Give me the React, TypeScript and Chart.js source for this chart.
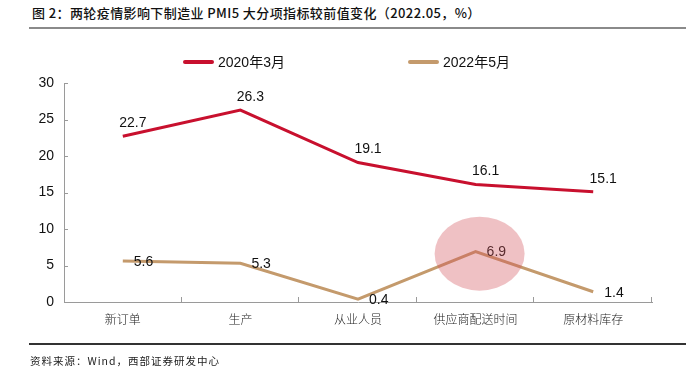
import React, { useEffect, useRef } from "react";
import { Chart, registerables } from "chart.js";

Chart.register(...registerables);

const titleText = "图 2：两轮疫情影响下制造业 PMI5 大分项指标较前值变化（2022.05，%）";
const sourceText = "资料来源：Wind，西部证券研发中心";
const categories = ["新订单", "生产", "从业人员", "供应商配送时间", "原材料库存"];
const seriesNames = ["2020年3月", "2022年5月"];
const series2020 = [22.7, 26.3, 19.1, 16.1, 15.1];
const series2022 = [5.6, 5.3, 0.4, 6.9, 1.4];
const seriesColors = ["#C8102E", "#C49A6C"];
const yMin = 0;
const yMax = 30;
const yStep = 5;
const highlightIndex = 3; // 供应商配送时间, 2022年5月

const numFont = '"Liberation Sans", Arial, "Noto Sans CJK SC", sans-serif';
const cjkFont = '"Noto Sans CJK SC", "Liberation Sans", sans-serif';
const axisColor = "#9a9a9a";

const overlayPlugin = {
  id: "overlay",
  afterDatasetsDraw(chart: any) {
    const ctx = chart.ctx;
    const xs = chart.scales.x;
    const ys = chart.scales.y;
    const area = chart.chartArea;
    ctx.save();
    // inside tick marks
    ctx.strokeStyle = axisColor;
    ctx.lineWidth = 1;
    ys.ticks.forEach((t: any) => {
      const y = Math.round(ys.getPixelForValue(t.value)) + 0.5;
      ctx.beginPath();
      ctx.moveTo(area.left, y);
      ctx.lineTo(area.left + 4, y);
      ctx.stroke();
    });
    for (let i = 1; i <= categories.length; i++) {
      const x =
        i < categories.length
          ? (xs.getPixelForValue(i - 1) + xs.getPixelForValue(i)) / 2
          : area.right;
      const px = Math.round(x) - 0.5;
      ctx.beginPath();
      ctx.moveTo(px, area.bottom);
      ctx.lineTo(px, area.bottom - 5);
      ctx.stroke();
    }
    // data labels
    ctx.fillStyle = "#111";
    ctx.font = `14px ${numFont}`;
    chart.data.datasets.forEach((ds: any, di: number) => {
      const meta = chart.getDatasetMeta(di);
      meta.data.forEach((pt: any, i: number) => {
        const v = ds.data[i];
        const txt = v.toFixed(1);
        if (di === 0) {
          ctx.textAlign = "center";
          ctx.textBaseline = "middle";
          ctx.fillText(txt, pt.x + 10, pt.y - 13);
        } else {
          ctx.textAlign = "left";
          ctx.textBaseline = "middle";
          ctx.fillText(txt, pt.x + 11, pt.y + 1);
        }
      });
    });
    ctx.restore();
  },
  afterDraw(chart: any) {
    const ctx = chart.ctx;
    const xs = chart.scales.x;
    const ys = chart.scales.y;
    const cx = xs.getPixelForValue(highlightIndex) + 4;
    const cy = ys.getPixelForValue(series2022[highlightIndex]) + 2;
    ctx.save();
    ctx.fillStyle = "rgba(212, 84, 92, 0.36)";
    ctx.beginPath();
    ctx.ellipse(cx, cy, 45, 37, 0, 0, Math.PI * 2);
    ctx.fill();
    ctx.restore();
  },
};

export default function App() {
  const canvasRef = useRef<HTMLCanvasElement>(null);

  useEffect(() => {
    if (!canvasRef.current) return;
    const chart = new Chart(canvasRef.current, {
      type: "line",
      data: {
        labels: categories,
        datasets: [
          {
            label: seriesNames[0],
            data: series2020,
            borderColor: seriesColors[0],
            backgroundColor: seriesColors[0],
            borderWidth: 3,
            pointRadius: 0,
            tension: 0,
          },
          {
            label: seriesNames[1],
            data: series2022,
            borderColor: seriesColors[1],
            backgroundColor: seriesColors[1],
            borderWidth: 3,
            pointRadius: 0,
            tension: 0,
          },
        ],
      },
      options: {
        responsive: false,
        animation: false,
        layout: { padding: { left: 0, top: 83, right: 41, bottom: 0 } },
        plugins: {
          legend: { display: false },
          tooltip: { enabled: false },
          title: { display: false },
        },
        scales: {
          x: {
            offset: true,
            grid: { display: false, drawTicks: false, offset: true },
            border: { display: true, color: axisColor, width: 1 },
            ticks: {
              padding: 10,
              color: "#222",
              font: { family: cjkFont, size: 12, weight: 300 },
              maxRotation: 0,
              autoSkip: false,
            },
            afterFit: (s: any) => {
              s.height = 72;
            },
          },
          y: {
            min: yMin,
            max: yMax,
            grid: { display: false, drawTicks: false },
            border: { display: true, color: axisColor, width: 1 },
            ticks: {
              stepSize: yStep,
              padding: 10,
              color: "#111",
              font: { family: numFont, size: 14 },
            },
            afterFit: (s: any) => {
              s.width = 64;
            },
          },
        },
      },
      plugins: [overlayPlugin],
    });
    return () => chart.destroy();
  }, []);

  return (
    <div
      style={{
        position: "fixed",
        left: 0,
        top: 0,
        width: 693,
        height: 374,
        background: "#fff",
        overflow: "hidden",
      }}
    >
      <div
        style={{
          position: "absolute",
          left: 32,
          top: 5,
          fontFamily: cjkFont,
          fontSize: 13,
          lineHeight: "16px",
          letterSpacing: "0.4px",
          color: "#111",
          fontWeight: 500,
          whiteSpace: "nowrap",
        }}
      >
        {titleText}
      </div>
      <div
        style={{
          position: "absolute",
          left: 29,
          top: 27,
          width: 657,
          height: 2,
          background: "#8a8a8a",
        }}
      />
      <canvas
        ref={canvasRef}
        width={693}
        height={374}
        style={{ position: "absolute", left: 0, top: 0 }}
      />
      {seriesNames.map((name, i) => (
        <div
          key={name}
          style={{
            position: "absolute",
            left: i === 0 ? 183 : 408,
            top: 53,
            height: 18,
            display: "flex",
            alignItems: "center",
            whiteSpace: "nowrap",
          }}
        >
          <div
            style={{
              width: 31,
              height: 4,
              background: seriesColors[i],
              borderRadius: 2,
              marginRight: 4,
            }}
          />
          <span
            style={{
              fontFamily: numFont,
              fontSize: 14,
              color: "#111",
              lineHeight: "18px",
            }}
          >
            {name}
          </span>
        </div>
      ))}
      <div
        style={{
          position: "absolute",
          left: 29,
          top: 343,
          width: 657,
          height: 2,
          background: "#333",
        }}
      />
      <div
        style={{
          position: "absolute",
          left: 30,
          top: 354,
          fontFamily: cjkFont,
          fontSize: 10.5,
          lineHeight: "14px",
          letterSpacing: "1px",
          color: "#222",
          whiteSpace: "nowrap",
        }}
      >
        {sourceText}
      </div>
    </div>
  );
}
